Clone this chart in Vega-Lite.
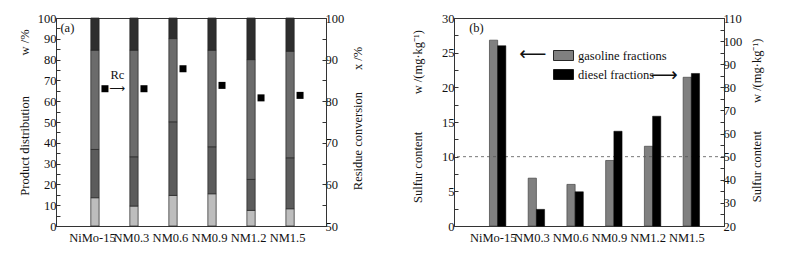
{
  "$schema": "https://vega.github.io/schema/vega-lite/v6.json",
  "padding": {"left": 17, "top": 11, "right": 5, "bottom": 5},
  "config": {
    "view": {"stroke": "#333", "strokeWidth": 1},
    "axis": {
      "labelFont": "Liberation Serif", "labelFontSize": 12.5, "labelColor": "#111",
      "titleFont": "Liberation Serif", "titleFontSize": 12.5, "titleFontWeight": "normal", "titleColor": "#111",
      "domainColor": "#333", "tickColor": "#333", "grid": false,
      "labelOverlap": false, "labelBound": false, "labelFlush": false
    }
  },
  "spacing": 46,
  "resolve": {"scale": {"color": "independent"}, "legend": {"color": "independent"}},
  "hconcat": [
    {
      "width": 270,
      "height": 208,
      "layer": [
        {
          "layer": [
            {
              "data": {"values": [
                {"catalyst": "NiMo-15", "fraction": "F1", "value": 13.6},
                {"catalyst": "NiMo-15", "fraction": "F2", "value": 23.2},
                {"catalyst": "NiMo-15", "fraction": "F3", "value": 47.7},
                {"catalyst": "NiMo-15", "fraction": "F4", "value": 15.5},
                {"catalyst": "NM0.3", "fraction": "F1", "value": 9.6},
                {"catalyst": "NM0.3", "fraction": "F2", "value": 23.7},
                {"catalyst": "NM0.3", "fraction": "F3", "value": 51.2},
                {"catalyst": "NM0.3", "fraction": "F4", "value": 15.5},
                {"catalyst": "NM0.6", "fraction": "F1", "value": 14.7},
                {"catalyst": "NM0.6", "fraction": "F2", "value": 35.4},
                {"catalyst": "NM0.6", "fraction": "F3", "value": 40.0},
                {"catalyst": "NM0.6", "fraction": "F4", "value": 9.9},
                {"catalyst": "NM0.9", "fraction": "F1", "value": 15.5},
                {"catalyst": "NM0.9", "fraction": "F2", "value": 22.6},
                {"catalyst": "NM0.9", "fraction": "F3", "value": 46.4},
                {"catalyst": "NM0.9", "fraction": "F4", "value": 15.5},
                {"catalyst": "NM1.2", "fraction": "F1", "value": 7.5},
                {"catalyst": "NM1.2", "fraction": "F2", "value": 14.9},
                {"catalyst": "NM1.2", "fraction": "F3", "value": 57.6},
                {"catalyst": "NM1.2", "fraction": "F4", "value": 20.0},
                {"catalyst": "NM1.5", "fraction": "F1", "value": 8.3},
                {"catalyst": "NM1.5", "fraction": "F2", "value": 24.5},
                {"catalyst": "NM1.5", "fraction": "F3", "value": 51.2},
                {"catalyst": "NM1.5", "fraction": "F4", "value": 16.0}
              ]},
              "mark": {"type": "bar", "width": 8.3, "xOffset": 1.5, "stroke": "#222", "strokeWidth": 0.7},
              "encoding": {
                "x": {
                  "field": "catalyst", "type": "nominal", "sort": null,
                  "scale": {"paddingInner": 0.5, "paddingOuter": 0.71},
                  "axis": {"title": null, "labelAngle": 0, "ticks": false, "labelPadding": 5, "labelOffset": -1}
                },
                "y": {
                  "field": "value", "type": "quantitative", "stack": "zero",
                  "scale": {"domain": [0, 100], "nice": false},
                  "axis": {
                    "orient": "left",
                    "values": [0,5,10,15,20,25,30,35,40,45,50,55,60,65,70,75,80,85,90,95,100],
                    "labelExpr": "datum.value % 10 === 0 ? datum.label : ''",
                    "labelOverlap": false,
                    "tickSize": -4, "labelPadding": 4, "titlePadding": 6, "titleY": 94,
                    "title": "Product distribution\u00a0\u00a0\u00a0\u00a0\u00a0\u00a0\u00a0\u00a0\u00a0\u00a0\u00a0\u00a0\u00a0w /%"
                  }
                },
                "color": {
                  "field": "fraction", "type": "nominal",
                  "scale": {"domain": ["F1", "F2", "F3", "F4"], "range": ["#bdbdbd", "#5c5c5c", "#6b6b6b", "#2e2e2e"]},
                  "legend": null
                },
                "order": {"field": "fraction", "sort": "ascending"}
              }
            },
            {
              "data": {"values": [
                {"label": "(a)", "ypos": 95.4},
                {"label": "Rc", "ypos": 72.5},
                {"label": "⟶", "ypos": 66}
              ]},
              "transform": [{"filter": "datum.label === '(a)'"}],
              "mark": {"type": "text", "align": "left", "baseline": "middle", "font": "Liberation Serif", "fontSize": 12.5, "color": "#111", "dx": -33},
              "encoding": {
                "x": {"datum": "NiMo-15"},
                "y": {
                  "field": "ypos", "type": "quantitative",
                  "axis": {
                    "orient": "left",
                    "values": [0,5,10,15,20,25,30,35,40,45,50,55,60,65,70,75,80,85,90,95,100],
                    "labelExpr": "datum.value % 10 === 0 ? datum.label : ''",
                    "labelOverlap": false,
                    "tickSize": -4, "labelPadding": 4, "titlePadding": 6, "titleY": 94,
                    "title": "Product distribution\u00a0\u00a0\u00a0\u00a0\u00a0\u00a0\u00a0\u00a0\u00a0\u00a0\u00a0\u00a0\u00a0w /%"
                  }
                },
                "text": {"field": "label"}
              }
            },
            {
              "data": {"values": [
                {"label": "(a)", "ypos": 95.4},
                {"label": "Rc", "ypos": 72.5},
                {"label": "⟶", "ypos": 66}
              ]},
              "transform": [{"filter": "datum.label === 'Rc'"}],
              "mark": {"type": "text", "align": "center", "baseline": "middle", "font": "Liberation Serif", "fontSize": 12.5, "color": "#111", "dx": 24},
              "encoding": {
                "x": {"datum": "NiMo-15"},
                "y": {
                  "field": "ypos", "type": "quantitative",
                  "axis": {
                    "orient": "left",
                    "values": [0,5,10,15,20,25,30,35,40,45,50,55,60,65,70,75,80,85,90,95,100],
                    "labelExpr": "datum.value % 10 === 0 ? datum.label : ''",
                    "labelOverlap": false,
                    "tickSize": -4, "labelPadding": 4, "titlePadding": 6, "titleY": 94,
                    "title": "Product distribution\u00a0\u00a0\u00a0\u00a0\u00a0\u00a0\u00a0\u00a0\u00a0\u00a0\u00a0\u00a0\u00a0w /%"
                  }
                },
                "text": {"field": "label"}
              }
            },
            {
              "data": {"values": [
                {"label": "(a)", "ypos": 95.4},
                {"label": "Rc", "ypos": 72.5},
                {"label": "⟶", "ypos": 66}
              ]},
              "transform": [{"filter": "datum.label === '⟶'"}],
              "mark": {"type": "text", "align": "center", "baseline": "middle", "font": "DejaVu Sans", "fontSize": 11, "color": "#111", "dx": 24},
              "encoding": {
                "x": {"datum": "NiMo-15"},
                "y": {
                  "field": "ypos", "type": "quantitative",
                  "axis": {
                    "orient": "left",
                    "values": [0,5,10,15,20,25,30,35,40,45,50,55,60,65,70,75,80,85,90,95,100],
                    "labelExpr": "datum.value % 10 === 0 ? datum.label : ''",
                    "labelOverlap": false,
                    "tickSize": -4, "labelPadding": 4, "titlePadding": 6, "titleY": 94,
                    "title": "Product distribution\u00a0\u00a0\u00a0\u00a0\u00a0\u00a0\u00a0\u00a0\u00a0\u00a0\u00a0\u00a0\u00a0w /%"
                  }
                },
                "text": {"field": "label"}
              }
            }
          ]
        },
        {
          "data": {"values": [
            {"catalyst": "NiMo-15", "rc": 83.0},
            {"catalyst": "NM0.3", "rc": 83.0},
            {"catalyst": "NM0.6", "rc": 87.8},
            {"catalyst": "NM0.9", "rc": 83.8},
            {"catalyst": "NM1.2", "rc": 80.8},
            {"catalyst": "NM1.5", "rc": 81.4}
          ]},
          "mark": {"type": "square", "filled": true, "size": 49, "color": "#000", "opacity": 1, "xOffset": 11.5},
          "encoding": {
            "x": {"field": "catalyst", "type": "nominal", "sort": null},
            "y": {
              "field": "rc", "type": "quantitative",
              "scale": {"domain": [50, 100], "nice": false, "zero": false},
              "axis": {
                "orient": "right",
                "values": [50,55,60,65,70,75,80,85,90,95,100],
                "labelExpr": "datum.value % 10 === 0 ? datum.label : ''",
                "labelOverlap": false,
                "tickSize": -4, "labelPadding": 3, "titlePadding": 8,
                "titleAngle": 270, "titleBaseline": "top", "titleY": 100,
                "title": "Residue conversion\u00a0\u00a0\u00a0\u00a0\u00a0\u00a0\u00a0x /%"
              }
            }
          }
        }
      ],
      "resolve": {"scale": {"y": "independent"}}
    },
    {
      "width": 270,
      "height": 208,
      "layer": [
        {
          "layer": [
            {
              "data": {"values": [
                {"catalyst": "NiMo-15", "gasoline": 26.8},
                {"catalyst": "NM0.3", "gasoline": 6.9},
                {"catalyst": "NM0.6", "gasoline": 6.0},
                {"catalyst": "NM0.9", "gasoline": 9.45},
                {"catalyst": "NM1.2", "gasoline": 11.5},
                {"catalyst": "NM1.5", "gasoline": 21.45}
              ]},
              "mark": {"type": "bar", "width": 8.2, "xOffset": 1.4, "stroke": "#444", "strokeWidth": 0.7},
              "encoding": {
                "x": {
                  "field": "catalyst", "type": "nominal", "sort": null,
                  "scale": {"paddingInner": 0.5, "paddingOuter": 0.735},
                  "axis": {"title": null, "labelAngle": 0, "ticks": false, "labelPadding": 5, "labelOffset": 1}
                },
                "y": {
                  "field": "gasoline", "type": "quantitative",
                  "scale": {"domain": [0, 30], "nice": false},
                  "axis": {
                    "orient": "left",
                    "values": [0,2.5,5,7.5,10,12.5,15,17.5,20,22.5,25,27.5,30],
                    "labelExpr": "datum.value % 5 === 0 ? datum.label : ''",
                    "labelOverlap": false,
                    "tickSize": -4, "labelPadding": 4, "titlePadding": 17, "titleY": 98,
                    "title": "Sulfur content\u00a0\u00a0\u00a0\u00a0\u00a0\u00a0\u00a0\u00a0\u00a0\u00a0\u00a0\u00a0w /(mg·kg⁻¹)"
                  }
                },
                "color": {
                  "datum": "gasoline fractions",
                  "scale": {"domain": ["gasoline fractions", "diesel fractions"], "range": ["#808080", "#000000"]},
                  "legend": {
                    "orient": "none", "legendX": 99, "legendY": 27, "title": null, "padding": 0,
                    "rowPadding": 1, "labelOffset": 4,
                    "symbolType": "M-1,-0.5H1V0.5H-1Z", "symbolSize": 400,
                    "symbolStrokeColor": "#333", "symbolStrokeWidth": 0.8,
                    "labelFont": "Liberation Serif", "labelFontSize": 12.5, "labelColor": "#111"
                  }
                }
              }
            },
            {
              "data": {"values": [
                {"kind": "rule", "label": "", "ypos": 10},
                {"kind": "b", "label": "(b)", "ypos": 28.6},
                {"kind": "gas", "label": "⟵", "ypos": 24.8},
                {"kind": "diesel", "label": "⟶", "ypos": 21.75}
              ]},
              "transform": [{"filter": "datum.kind === 'rule'"}],
              "mark": {"type": "rule", "strokeDash": [3, 3], "color": "#555", "strokeWidth": 0.8},
              "encoding": {
                "y": {
                  "field": "ypos", "type": "quantitative",
                  "axis": {
                    "orient": "left",
                    "values": [0,2.5,5,7.5,10,12.5,15,17.5,20,22.5,25,27.5,30],
                    "labelExpr": "datum.value % 5 === 0 ? datum.label : ''",
                    "labelOverlap": false,
                    "tickSize": -4, "labelPadding": 4, "titlePadding": 17, "titleY": 98,
                    "title": "Sulfur content\u00a0\u00a0\u00a0\u00a0\u00a0\u00a0\u00a0\u00a0\u00a0\u00a0\u00a0\u00a0w /(mg·kg⁻¹)"
                  }
                }
              }
            },
            {
              "data": {"values": [
                {"kind": "rule", "label": "", "ypos": 10},
                {"kind": "b", "label": "(b)", "ypos": 28.6},
                {"kind": "gas", "label": "⟵", "ypos": 24.8},
                {"kind": "diesel", "label": "⟶", "ypos": 21.75}
              ]},
              "transform": [{"filter": "datum.kind === 'b'"}],
              "mark": {"type": "text", "align": "left", "baseline": "middle", "font": "Liberation Serif", "fontSize": 12.5, "color": "#111", "dx": -23},
              "encoding": {
                "x": {"datum": "NiMo-15"},
                "y": {
                  "field": "ypos", "type": "quantitative",
                  "axis": {
                    "orient": "left",
                    "values": [0,2.5,5,7.5,10,12.5,15,17.5,20,22.5,25,27.5,30],
                    "labelExpr": "datum.value % 5 === 0 ? datum.label : ''",
                    "labelOverlap": false,
                    "tickSize": -4, "labelPadding": 4, "titlePadding": 17, "titleY": 98,
                    "title": "Sulfur content\u00a0\u00a0\u00a0\u00a0\u00a0\u00a0\u00a0\u00a0\u00a0\u00a0\u00a0\u00a0w /(mg·kg⁻¹)"
                  }
                },
                "text": {"field": "label"}
              }
            },
            {
              "data": {"values": [
                {"kind": "rule", "label": "", "ypos": 10},
                {"kind": "b", "label": "(b)", "ypos": 28.6},
                {"kind": "gas", "label": "⟵", "ypos": 24.8},
                {"kind": "diesel", "label": "⟶", "ypos": 21.75}
              ]},
              "transform": [{"filter": "datum.kind === 'gas'"}],
              "mark": {"type": "text", "align": "center", "baseline": "middle", "font": "DejaVu Sans", "fontSize": 19, "color": "#111", "dx": 2},
              "encoding": {
                "x": {"datum": "NM0.3"},
                "y": {
                  "field": "ypos", "type": "quantitative",
                  "axis": {
                    "orient": "left",
                    "values": [0,2.5,5,7.5,10,12.5,15,17.5,20,22.5,25,27.5,30],
                    "labelExpr": "datum.value % 5 === 0 ? datum.label : ''",
                    "labelOverlap": false,
                    "tickSize": -4, "labelPadding": 4, "titlePadding": 17, "titleY": 98,
                    "title": "Sulfur content\u00a0\u00a0\u00a0\u00a0\u00a0\u00a0\u00a0\u00a0\u00a0\u00a0\u00a0\u00a0w /(mg·kg⁻¹)"
                  }
                },
                "text": {"field": "label"}
              }
            },
            {
              "data": {"values": [
                {"kind": "rule", "label": "", "ypos": 10},
                {"kind": "b", "label": "(b)", "ypos": 28.6},
                {"kind": "gas", "label": "⟵", "ypos": 24.8},
                {"kind": "diesel", "label": "⟶", "ypos": 21.75}
              ]},
              "transform": [{"filter": "datum.kind === 'diesel'"}],
              "mark": {"type": "text", "align": "center", "baseline": "middle", "font": "DejaVu Sans", "fontSize": 19, "color": "#111", "dx": 17},
              "encoding": {
                "x": {"datum": "NM1.2"},
                "y": {
                  "field": "ypos", "type": "quantitative",
                  "axis": {
                    "orient": "left",
                    "values": [0,2.5,5,7.5,10,12.5,15,17.5,20,22.5,25,27.5,30],
                    "labelExpr": "datum.value % 5 === 0 ? datum.label : ''",
                    "labelOverlap": false,
                    "tickSize": -4, "labelPadding": 4, "titlePadding": 17, "titleY": 98,
                    "title": "Sulfur content\u00a0\u00a0\u00a0\u00a0\u00a0\u00a0\u00a0\u00a0\u00a0\u00a0\u00a0\u00a0w /(mg·kg⁻¹)"
                  }
                },
                "text": {"field": "label"}
              }
            }
          ]
        },
        {
          "data": {"values": [
            {"catalyst": "NiMo-15", "diesel": 98.0},
            {"catalyst": "NM0.3", "diesel": 27.2},
            {"catalyst": "NM0.6", "diesel": 34.8},
            {"catalyst": "NM0.9", "diesel": 61.0},
            {"catalyst": "NM1.2", "diesel": 67.5},
            {"catalyst": "NM1.5", "diesel": 86.0}
          ]},
          "mark": {"type": "bar", "width": 8.2, "xOffset": 9.6, "stroke": "#000", "strokeWidth": 0.5},
          "encoding": {
            "x": {"field": "catalyst", "type": "nominal", "sort": null},
            "y": {
              "field": "diesel", "type": "quantitative",
              "scale": {"domain": [20, 110], "nice": false, "zero": false},
              "axis": {
                "orient": "right",
                "values": [20,25,30,35,40,45,50,55,60,65,70,75,80,85,90,95,100,105,110],
                "labelExpr": "datum.value % 10 === 0 ? datum.label : ''",
                "labelOverlap": false,
                "tickSize": -4, "labelPadding": 3, "titlePadding": 9,
                "titleAngle": 270, "titleBaseline": "top", "titleY": 102,
                "title": "Sulfur content\u00a0\u00a0\u00a0\u00a0\u00a0\u00a0\u00a0\u00a0\u00a0w /(mg·kg⁻¹)"
              }
            },
            "y2": {"datum": 20},
            "color": {"datum": "diesel fractions"}
          }
        }
      ],
      "resolve": {"scale": {"y": "independent"}}
    }
  ]
}
